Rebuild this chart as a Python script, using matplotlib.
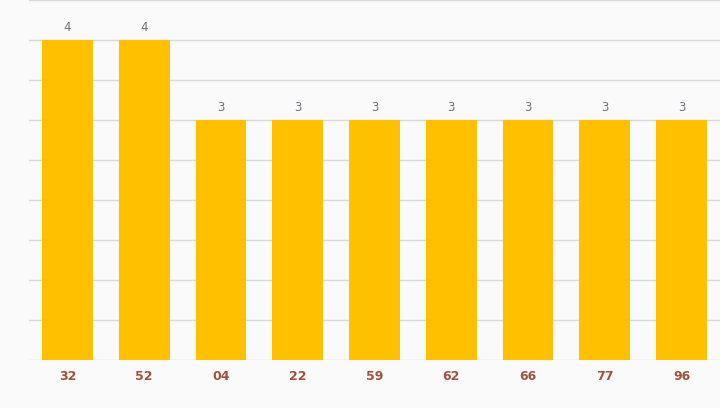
import matplotlib
matplotlib.use('Agg')
import matplotlib.pyplot as plt
import numpy as np

categories = ['32', '52', '04', '22', '59', '62', '66', '77', '96']
values = [4, 4, 3, 3, 3, 3, 3, 3, 3]

W, H = 720, 408
fig = plt.figure(figsize=(W / 100, H / 100), dpi=100)
fig.patch.set_facecolor('#fafafa')
ax = fig.add_axes([29 / W, 48 / H, (W - 29) / W, 360 / H])
ax.set_facecolor('#fafafa')

x = np.arange(len(categories))
bars = ax.bar(x, values, width=0.66, color='#ffc000', zorder=2)

ax.set_xlim(-0.5, len(categories) - 0.5)
ax.set_ylim(0, 4.5)
ax.set_yticks(np.arange(0, 4.51, 0.5))
ax.yaxis.grid(True, color='#d9d9d9', linewidth=1, zorder=0)
ax.tick_params(axis='y', left=False, labelleft=False)
ax.tick_params(axis='x', bottom=False, pad=4)
ax.set_xticks(x)
ax.set_xticklabels(categories, fontsize=9, fontweight='bold', color='#a0523a')
for s in ax.spines.values():
    s.set_visible(False)

for xi, v in zip(x, values):
    ax.annotate(str(v), (xi, v), xytext=(0, 4.5), textcoords='offset points',
                ha='center', va='bottom', fontsize=8.5, color='#6b7280')

fig.savefig('out.png', dpi=100, facecolor=fig.get_facecolor())
